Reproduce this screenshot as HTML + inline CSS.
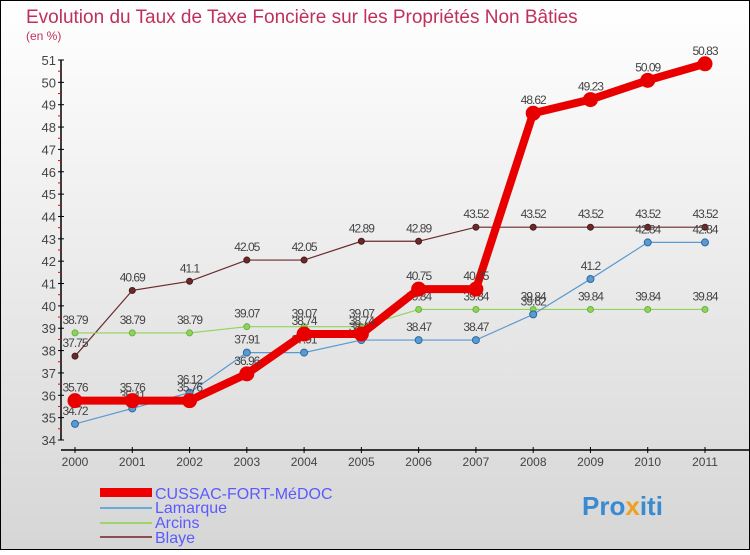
<!DOCTYPE html>
<html><head><meta charset="utf-8"><style>
body{margin:0}
#c{width:750px;height:550px;position:relative;font-family:"Liberation Sans",sans-serif;}
svg text{font-family:"Liberation Sans",sans-serif}
</style></head><body>
<div id="c">
<svg id="s" width="750" height="550" xmlns="http://www.w3.org/2000/svg">
<defs><linearGradient id="bg" x1="0" y1="0" x2="0" y2="1"><stop offset="0" stop-color="#ffffff"/><stop offset="1" stop-color="#d6d6d6"/></linearGradient></defs>
<rect x="0.5" y="0.5" width="749" height="549" fill="url(#bg)" stroke="#000"/>
<text x="26" y="23" font-size="19" fill="#c0305a">Evolution du Taux de Taxe Foncière sur les Propriétés Non Bâties</text>
<text x="26" y="40" font-size="12" fill="#c0305a">(en %)</text>
<g id="axes"></g><g id="series"></g>
<g>
<rect x="100" y="488" width="52" height="9" fill="#e00"/>
<text x="155" y="499" font-size="16" fill="#5a5aff">CUSSAC-FORT-MéDOC</text>
<rect x="100" y="507" width="52" height="2" fill="#6aaad8"/>
<text x="155" y="513" font-size="16" fill="#5a5aff">Lamarque</text>
<rect x="100" y="522" width="52" height="2" fill="#9dd66b"/>
<text x="155" y="528" font-size="16" fill="#5a5aff">Arcins</text>
<rect x="100" y="536" width="52" height="2" fill="#8a5050"/>
<text x="155" y="543" font-size="16" fill="#5a5aff">Blaye</text>
</g>
<text x="582" y="515" font-size="26" font-weight="bold" fill="#3a8ad0">Pro<tspan fill="#f0a020">x</tspan>iti</text>
</svg></div>
<script>
const years=["2000","2001","2002","2003","2004","2005","2006","2007","2008","2009","2010","2011"];
const cussac=[35.76,35.76,35.76,36.96,38.74,38.74,40.75,40.75,48.62,49.23,50.09,50.83];
const lamarque=[34.72,35.41,36.12,37.91,37.91,38.47,38.47,38.47,39.62,41.2,42.84,42.84];
const arcins=[38.79,38.79,38.79,39.07,39.07,39.07,39.84,39.84,39.84,39.84,39.84,39.84];
const blaye=[37.75,40.69,41.1,42.05,42.05,42.89,42.89,43.52,43.52,43.52,43.52,43.52];
const yTicks=[34,35,36,37,38,39,40,41,42,43,44,45,46,47,48,49,50,51];
const NS="http://www.w3.org/2000/svg";
const yMin=34,yMax=51,y0=440,y1=60,x0=75,x1=705;
const X=i=>x0+(x1-x0)*i/(years.length-1);
const Y=v=>y0-(v-yMin)*(y0-y1)/(yMax-yMin);
function mk(t,a,p){const e=document.createElementNS(NS,t);for(const k in a)e.setAttribute(k,a[k]);p.appendChild(e);return e;}
const ax=document.getElementById('axes');
let l=mk('line',{x1:61,y1:y1,x2:61,y2:y0,stroke:'#000','stroke-width':1.5},ax);


yTicks.forEach(v=>{
 mk('line',{x1:58,x2:64,y1:Y(v),y2:Y(v),stroke:'#000'},ax);
 if(v<yMax) mk('line',{x1:58,x2:61,y1:Y(v+0.5),y2:Y(v+0.5),stroke:'#e00'},ax);
 const t=mk('text',{x:56,y:Y(v)+5,'font-size':13,'text-anchor':'end',fill:'#444'},ax);
 t.textContent=v;
 
 
});
l=mk('line',{x1:61,y1:450,x2:750,y2:450,stroke:'#000','stroke-width':1.5},ax);


years.forEach((y,i)=>{
 mk('line',{x1:X(i),x2:X(i),y1:447,y2:453,stroke:'#000'},ax);
 const t=mk('text',{x:X(i),y:466,'font-size':12,'text-anchor':'middle',fill:'#444'},ax);
 t.textContent=y;
 
 
});
const sg=document.getElementById('series');
function series(name,vals,color,w,r,stroke){
 const g=mk('g',{},sg);
 
 
 const p=mk('polyline',{points:vals.map((v,i)=>X(i)+','+Y(v)).join(' '),fill:'none',stroke:color,'stroke-width':w},g);
 
 
 vals.forEach((v,i)=>{
  const c=mk('circle',{cx:X(i),cy:Y(v),r:r,fill:color,stroke:stroke,'stroke-width':1},g);
  
  
  const t=mk('text',{x:X(i),y:Y(v)-9,'font-size':12,'text-anchor':'middle',fill:'#444','letter-spacing':'-1'},g);
  t.textContent=String(v);
  
  
 });
}
series('blaye',blaye,'#6a2a2a',1.2,3,'#4a1a1a');
series('arcins',arcins,'#8fd45a',1.2,3,'#6ab040');
series('lamarque',lamarque,'#5a9ad0',1.2,3.5,'#2a6aa0');
series('cussac',cussac,'#e80000',8,7,'#e80000');
</script>
</body></html>
